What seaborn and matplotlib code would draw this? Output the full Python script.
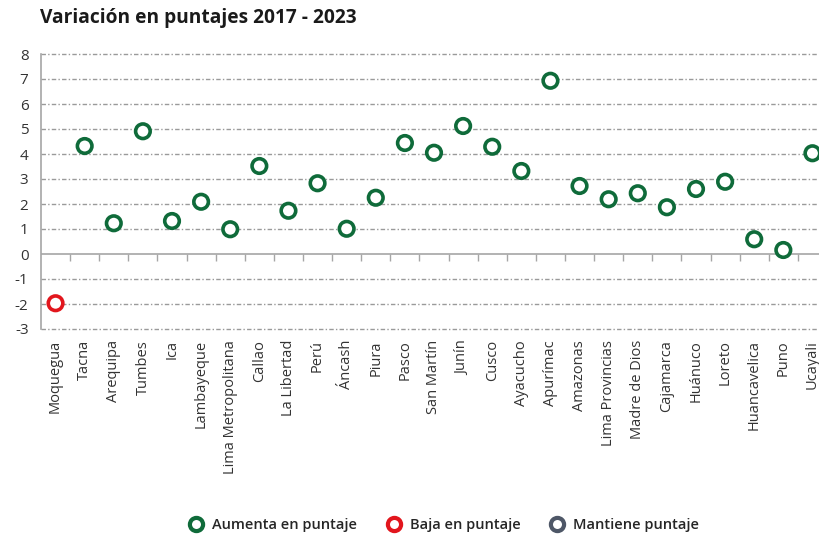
import numpy as np
import pandas as pd
import matplotlib
matplotlib.use("Agg")
import matplotlib.pyplot as plt
from matplotlib.lines import Line2D
import seaborn as sns

regiones = ["Moquegua", "Tacna", "Arequipa", "Tumbes", "Ica", "Lambayeque",
            "Lima Metropolitana", "Callao", "La Libertad", "Perú", "Áncash", "Piura",
            "Pasco", "San Martín", "Junín", "Cusco", "Ayacucho", "Apurímac",
            "Amazonas", "Lima Provincias", "Madre de Dios", "Cajamarca", "Huánuco",
            "Loreto", "Huancavelica", "Puno", "Ucayali"]
variacion = [-1.97, 4.32, 1.23, 4.91, 1.32, 2.09, 0.99, 3.52, 1.73, 2.83, 1.01, 2.25,
             4.44, 4.05, 5.12, 4.29, 3.32, 6.93, 2.72, 2.19, 2.43, 1.87, 2.6,
             2.89, 0.59, 0.16, 4.03]
estados = ["Aumenta en puntaje", "Baja en puntaje", "Mantiene puntaje"]
colores = ["#0f6b3a", "#e2161d", "#4e5767"]
y_ticks = list(range(-3, 9))
titulo = "Variación en puntajes 2017 - 2023"

estado = [estados[0] if v > 0 else (estados[1] if v < 0 else estados[2]) for v in variacion]
df = pd.DataFrame({"region": regiones, "variacion": variacion, "estado": estado})
paleta = dict(zip(estados, colores))

sns.set_style("white")
plt.rcParams["font.family"] = ["Open Sans", "DejaVu Sans"]

W, H = 820, 539
fig = plt.figure(figsize=(W / 100, H / 100), dpi=100)
ax = fig.add_axes([41 / W, 1 - 329 / H, 786 / W, 275 / H])

grid_color = "#9a9a9a"
for yv in y_ticks:
    if yv != 0:
        ax.axhline(yv, color=grid_color, lw=1.0, ls=(0, (3.2, 1.6, 1.0, 1.6)),
                   zorder=0, clip_on=False)
ax.axhline(0, color="#a6a6a6", lw=1.2, zorder=1)

sns.scatterplot(data=df, x="region", y="variacion", hue="estado", palette=paleta,
                hue_order=estados, ax=ax, s=110, facecolor="white", linewidth=2.6,
                legend=False, zorder=3)
coll = ax.collections[-1]
ec = [paleta[e] for e in df["estado"]]
coll.set_edgecolors(ec)
coll.set_facecolors("white")

ax.set_xlim(-0.5, len(regiones) - 0.5)
ax.set_ylim(min(y_ticks), max(y_ticks))
ax.set_yticks(y_ticks)
ax.set_yticklabels([str(t) for t in y_ticks])
ax.set_xticks(range(len(regiones)))
ax.set_xticklabels(regiones, rotation=90)
ax.tick_params(axis="x", length=0, labelsize=10.5, labelcolor="#333333", pad=8)
ax.tick_params(axis="y", length=5, width=1, color="#a6a6a6", direction="out",
               labelsize=11, labelcolor="#333333", pad=4)
ax.set_xlabel("")
ax.set_ylabel("")
for s in ["top", "right", "bottom"]:
    ax.spines[s].set_visible(False)
ax.spines["left"].set_color("#a6a6a6")
ax.spines["left"].set_linewidth(1.2)

frac0 = (0 - min(y_ticks)) / (max(y_ticks) - min(y_ticks))
sec = ax.secondary_xaxis(frac0)
sec.set_xticks(np.arange(0.5, len(regiones) - 1, 1.0))
sec.set_xticklabels([])
sec.tick_params(length=5, width=1, color="#a6a6a6", direction="out")
sec.spines["bottom"].set_visible(False)

fig.text(40 / W, 1 - 18 / H, titulo, fontsize=13.8, fontweight="bold",
         color="#1a1a1a", va="center", ha="left")

handles = [Line2D([], [], marker="o", ls="", markersize=9.5, markerfacecolor="white",
                  markeredgecolor=c, markeredgewidth=3) for c in colores]
fig.legend(handles, estados, loc="center", bbox_to_anchor=(442 / W, 1 - 525 / H),
           ncol=3, frameon=False, columnspacing=1.7, handletextpad=0.3,
           handlelength=1.6, prop={"weight": "semibold", "size": 10.5})

fig.savefig("out.png", dpi=100)
